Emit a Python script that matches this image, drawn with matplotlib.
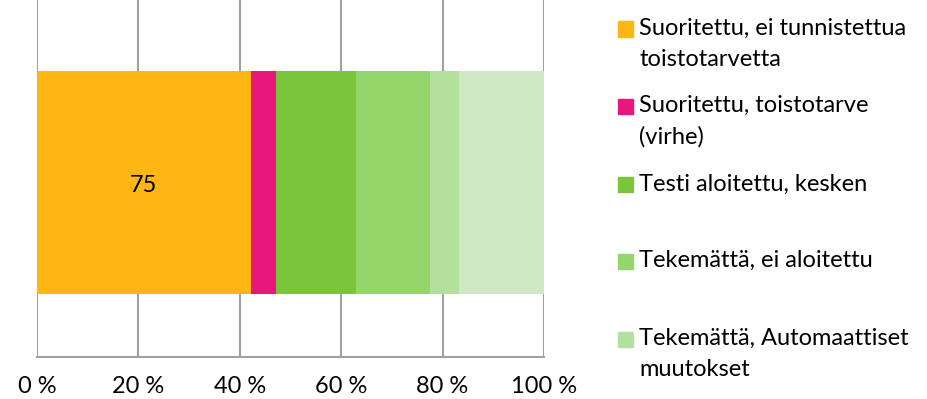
import matplotlib
matplotlib.use("Agg")
import matplotlib.pyplot as plt
from matplotlib.patches import Rectangle

plt.rcParams['font.family'] = ['Lato', 'DejaVu Sans']

series = ["Suoritettu, ei tunnistettua\ntoistotarvetta",
          "Suoritettu, toistotarve\n(virhe)",
          "Testi aloitettu, kesken",
          "Tekemättä, ei aloitettu",
          "Tekemättä, Automaattiset\nmuutokset",
          "Muut"]
values = [75, 9, 28, 26, 10, 30]
colors = ["#FFB612", "#E9177C", "#7AC53A", "#94D66B", "#B4E09E", "#CDE8C3"]
legend_count = 5
xticks = [0, 20, 40, 60, 80, 100]
xticklabels = ["0 %", "20 %", "40 %", "60 %", "80 %", "100 %"]

total = sum(values)
pct = [v / total * 100 for v in values]

fig = plt.figure(figsize=(9.27, 3.99), dpi=100)
W, H = 927, 399
ax = fig.add_axes([37 / W, 1 - 357 / H, (544 - 37) / W, 357 / H])

left = 0
for p, c, lab in zip(pct, colors, series):
    ax.barh(0, p, left=left, height=0.625, color=c, label=lab, zorder=3)
    left += p

ax.text(pct[0] / 2, -0.01, str(values[0]), ha='center', va='center',
        fontsize=17, color='black', zorder=4)

ax.set_xlim(0, 100)
ax.set_ylim(-0.49, 0.51)
ax.set_xticks(xticks)
ax.set_xticklabels(xticklabels, fontsize=17)
ax.set_yticks([])
ax.tick_params(axis='x', length=0, pad=14)
ax.grid(axis='x', color='#A0A0A0', linewidth=1.5, zorder=0)
for s in ['top', 'right', 'left']:
    ax.spines[s].set_visible(False)
ax.spines['bottom'].set_color('#A0A0A0')
ax.spines['bottom'].set_linewidth(1.5)

# legend (manual, Excel-style even spacing)
centers = [29, 106, 185, 261, 339]
for i in range(legend_count):
    yc = centers[i]
    fig.add_artist(Rectangle((618 / W, 1 - (yc + 7.5) / H), 15 / W, 15 / H,
                             transform=fig.transFigure, color=colors[i]))
    fig.text(639 / W, 1 - (yc - 11) / H, series[i], ha='left', va='top',
             fontsize=17, color='black', linespacing=1.6)

fig.savefig("out.png", dpi=100)
